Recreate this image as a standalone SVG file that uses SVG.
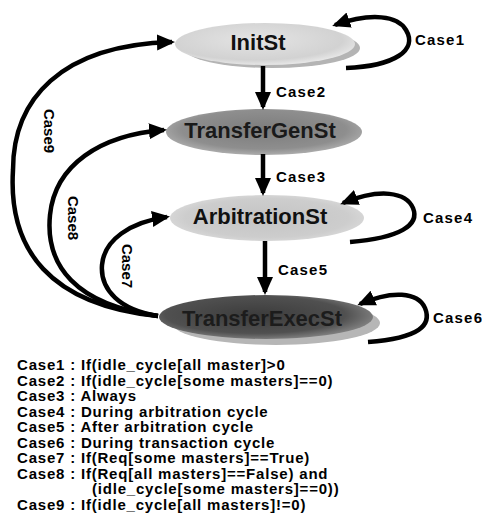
<svg xmlns="http://www.w3.org/2000/svg" width="482" height="524" viewBox="0 0 482 524">
  <style>
    .lbl { font-family: "Liberation Sans", Arial, sans-serif; font-weight: bold; font-size: 15px; letter-spacing: 1.2px; fill: #000; }
    .vlbl { font-family: "Liberation Sans", Arial, sans-serif; font-weight: bold; font-size: 15px; fill: #000; }
    .node { font-family: "Liberation Sans", Arial, sans-serif; font-weight: bold; font-size: 22px; text-anchor: middle; }
    .legend { font-family: "Liberation Sans", Arial, sans-serif; font-weight: bold; font-size: 15px; letter-spacing: 0.8px; fill: #000; }
    .edge { fill: none; stroke: #000; stroke-width: 4.5; marker-end: url(#arr); }
  </style>
  <defs>
    <marker id="arr" markerUnits="userSpaceOnUse" markerWidth="22" markerHeight="18" refX="15" refY="8" orient="auto">
      <path d="M0,0 L18,8 L0,16 z" fill="#000"/>
    </marker>
    <radialGradient id="gInit" cx="0.45" cy="0.4" r="0.6">
      <stop offset="0" stop-color="#e4e4e4"/>
      <stop offset="0.8" stop-color="#d2d2d2"/>
      <stop offset="1" stop-color="#e6e6e6"/>
    </radialGradient>
    <radialGradient id="gGen" cx="0.5" cy="0.45" r="0.6">
      <stop offset="0" stop-color="#7c7c7c"/>
      <stop offset="0.7" stop-color="#8e8e8e"/>
      <stop offset="1" stop-color="#b8b8b8"/>
    </radialGradient>
    <radialGradient id="gArb" cx="0.5" cy="0.5" r="0.6">
      <stop offset="0" stop-color="#c4c4c4"/>
      <stop offset="0.7" stop-color="#cdcdcd"/>
      <stop offset="1" stop-color="#e0e0e0"/>
    </radialGradient>
    <radialGradient id="gExec" cx="0.45" cy="0.45" r="0.6">
      <stop offset="0" stop-color="#3c3c3c"/>
      <stop offset="0.7" stop-color="#505050"/>
      <stop offset="1" stop-color="#8a8a8a"/>
    </radialGradient>
  </defs>

  <g id="InitSt">
    <ellipse cx="272" cy="48" rx="88" ry="20" fill="#b4b4b4"/>
    <ellipse cx="265" cy="44" rx="90" ry="21" fill="url(#gInit)"/>
    <text class="node" x="258" y="50" fill="#111">InitSt</text>
  </g>

  <g id="TransferGenSt">
    <ellipse cx="264" cy="132" rx="98" ry="23" fill="url(#gGen)"/>
    <text class="node" x="260" y="138" fill="#1a1a1a">TransferGenSt</text>
  </g>

  <g id="ArbitrationSt">
    <ellipse cx="267" cy="218" rx="97" ry="23" fill="url(#gArb)"/>
    <text class="node" x="260" y="224" fill="#111">ArbitrationSt</text>
  </g>

  <g id="TransferExecSt">
    <ellipse cx="276" cy="323" rx="104" ry="22" fill="#b6b6b6"/>
    <ellipse cx="266" cy="317" rx="107" ry="22" fill="url(#gExec)"/>
    <text class="node" x="262" y="326" fill="#1c1c1c">TransferExecSt</text>
  </g>

  <g id="connectors">
    <path class="edge" d="M263,66 L263,107"/>
    <path class="edge" d="M263,154 L263,193"/>
    <path class="edge" d="M265,241 L265,292"/>
    <path class="edge" d="M346,68 C395,66 418,50 406,30 C398,16 372,12 335,25"/>
    <path class="edge" d="M350,242 C400,238 420,225 413,208 C406,192 380,188 343,203"/>
    <path class="edge" d="M368,342 C420,338 432,325 425,308 C418,292 392,290 360,304"/>
    <path class="edge" d="M158,316 C50,305 8,250 13,170 C13,100 60,45 172,42"/>
    <path class="edge" d="M158,316 C75,305 45,265 50,215 C55,165 100,135 164,130"/>
    <path class="edge" d="M158,316 C120,310 100,290 102,265 C104,240 130,222 167,217"/>
  </g>

  <g id="edge-labels">
    <text class="lbl" x="415" y="45">Case1</text>
    <text class="lbl" x="276" y="97">Case2</text>
    <text class="lbl" x="276" y="182">Case3</text>
    <text class="lbl" x="423" y="223">Case4</text>
    <text class="lbl" x="278" y="275">Case5</text>
    <text class="lbl" x="433" y="323">Case6</text>
    <text class="vlbl" text-anchor="middle" transform="translate(44,131) rotate(90)">Case9</text>
    <text class="vlbl" text-anchor="middle" transform="translate(68,218) rotate(90)">Case8</text>
    <text class="vlbl" text-anchor="middle" transform="translate(122,266) rotate(90)">Case7</text>
  </g>

  <g id="legend">
    <text class="legend" x="17" y="370">Case1 : If(idle_cycle[all master]&gt;0</text>
    <text class="legend" x="17" y="385.5">Case2 : If(idle_cycle[some masters]==0)</text>
    <text class="legend" x="17" y="401">Case3 : Always</text>
    <text class="legend" x="17" y="416.5">Case4 : During arbitration cycle</text>
    <text class="legend" x="17" y="432">Case5 : After arbitration cycle</text>
    <text class="legend" x="17" y="447.5">Case6 : During transaction cycle</text>
    <text class="legend" x="17" y="463">Case7 : If(Req[some masters]==True)</text>
    <text class="legend" x="17" y="478.5">Case8 : If(Req[all masters]==False) and</text>
    <text class="legend" x="92" y="494">(idle_cycle[some masters]==0))</text>
    <text class="legend" x="17" y="509.5">Case9 : If(idle_cycle[all masters]!=0)</text>
  </g>
</svg>
